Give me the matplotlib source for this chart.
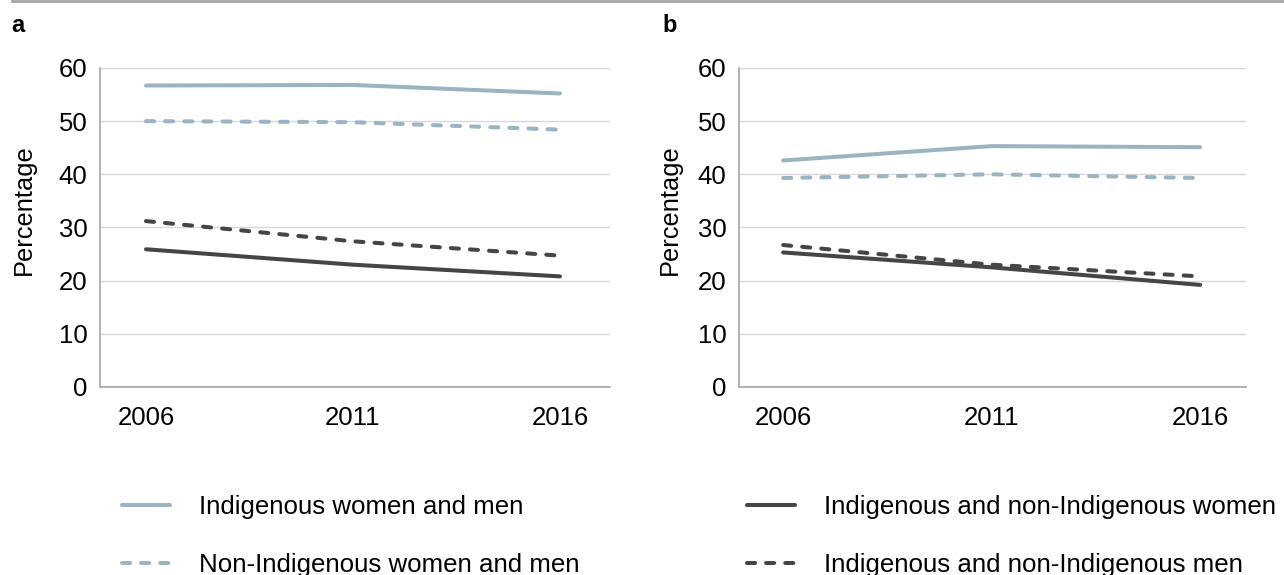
import matplotlib.pyplot as plt
from matplotlib.lines import Line2D

years = ["2006", "2011", "2016"]

# panel a
a_indig = [56.7, 56.8, 55.2]
a_nonindig = [50.0, 49.8, 48.4]
a_men = [31.2, 27.4, 24.7]
a_women = [25.9, 23.0, 20.8]

# panel b
b_indig = [42.6, 45.3, 45.1]
b_nonindig = [39.3, 40.0, 39.3]
b_men = [26.7, 23.0, 20.8]
b_women = [25.3, 22.5, 19.2]

LIGHT = "#9BB4C1"
DARK = "#454545"
GRID = "#D9D9D9"
SPINE = "#A6A6A6"
LW = 2.9
DASH = (0, (2.0, 2.75))

plt.rcParams["font.family"] = ["Liberation Sans", "DejaVu Sans"]

fig = plt.figure(figsize=(12.84, 5.75), dpi=100)

# grey rule across the top
fig.add_artist(Line2D([0.009, 1], [0.9975, 0.9975], color="#A6A6A6", lw=2.0,
                      transform=fig.transFigure))


def panel(rect, series, xlim, label_x):
    ax = fig.add_axes(rect)
    x = range(len(years))
    for vals, col, ls in series:
        ax.plot(x, vals, color=col, lw=LW, linestyle=ls,
                solid_capstyle="round", dash_capstyle="round")
    ax.set_ylim(0, 60)
    ax.set_yticks(range(0, 61, 10))
    ax.set_xlim(*xlim)
    ax.set_xticks(list(x))
    ax.set_xticklabels(years)
    ax.grid(axis="y", color=GRID, lw=1)
    ax.set_axisbelow(True)
    for s in ["top", "right"]:
        ax.spines[s].set_visible(False)
    for s in ["left", "bottom"]:
        ax.spines[s].set_color(SPINE)
        ax.spines[s].set_linewidth(1.2)
    ax.tick_params(length=0, labelsize=18.5, colors="black")
    ax.tick_params(axis="y", pad=9)
    ax.tick_params(axis="x", pad=14)
    ax.set_ylabel("Percentage", fontsize=18.3)
    ax.yaxis.set_label_coords(label_x, 0.555)
    return ax


ax_a = panel([0.0779, 0.327, 0.3972, 0.5548],
             [(a_indig, LIGHT, "-"), (a_nonindig, LIGHT, DASH),
              (a_men, DARK, DASH), (a_women, DARK, "-")],
             (-0.222, 2.242), -0.126)
ax_b = panel([0.5755, 0.327, 0.3949, 0.5548],
             [(b_indig, LIGHT, "-"), (b_nonindig, LIGHT, DASH),
              (b_men, DARK, DASH), (b_women, DARK, "-")],
             (-0.212, 2.22), -0.113)

fig.text(0.009, 0.955, "a", fontsize=17, fontweight="bold", va="center")
fig.text(0.516, 0.955, "b", fontsize=17, fontweight="bold", va="center")

left_handles = [Line2D([], [], color=LIGHT, lw=LW, solid_capstyle="round"),
                Line2D([], [], color=LIGHT, lw=LW, linestyle=DASH,
                       dash_capstyle="round")]
right_handles = [Line2D([], [], color=DARK, lw=LW, solid_capstyle="round"),
                 Line2D([], [], color=DARK, lw=LW, linestyle=DASH,
                        dash_capstyle="round")]

leg_kw = dict(frameon=False, fontsize=18.6, handlelength=1.87,
              handletextpad=1.12, labelspacing=1.33, borderpad=0,
              borderaxespad=0, loc="upper left")
fig.legend(left_handles,
           ["Indigenous women and men", "Non-Indigenous women and men"],
           bbox_to_anchor=(0.095, 0.139), **leg_kw)
fig.legend(right_handles,
           ["Indigenous and non-Indigenous women",
            "Indigenous and non-Indigenous men"],
           bbox_to_anchor=(0.5818, 0.139), **leg_kw)

fig.savefig("out.png", dpi=100)
